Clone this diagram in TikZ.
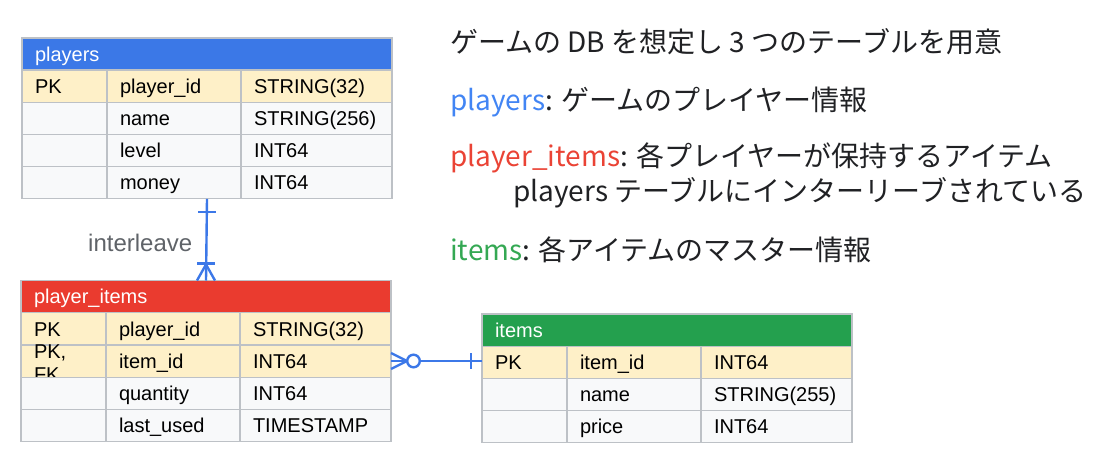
\documentclass[tikz,border=0pt]{standalone}
\usepackage{fontspec}
\setmainfont{Liberation Sans}
\newfontfamily\jp{Noto Sans CJK JP}
\usetikzlibrary{fit,calc}
\definecolor{pblue}{HTML}{3B78E7}
\definecolor{pired}{HTML}{EA3B2F}
\definecolor{itgreen}{HTML}{24A04E}
\definecolor{keyyellow}{HTML}{FEF0C8}
\definecolor{rowgray}{HTML}{F8F9FA}
\definecolor{bordergray}{HTML}{BDC1C6}
\definecolor{connblue}{HTML}{3C78E8}
\definecolor{txtgray}{HTML}{5F6368}
\definecolor{txtdark}{HTML}{202124}
\definecolor{tblue}{HTML}{4285F4}
\definecolor{tred}{HTML}{EA4335}
\definecolor{tgreen}{HTML}{34A853}
\newcommand\tabrow[7]{%
  \node[c1,#4] (#1a) at (#2,#3) {#5};
  \node[c2,#4] (#1b) at (#1a.north east) {#6};
  \node[c3,#4] (#1c) at (#1b.north east) {#7};
}
\begin{document}
\begin{tikzpicture}[x=1pt,y=-1pt,
  cell/.style={draw=bordergray, line width=1.2pt, anchor=north west,
    outer sep=0pt,
    minimum height=32.2pt, inner xsep=13pt, inner ysep=0pt,
    text height=14.4pt, text depth=0pt, align=left, text=black,
    font=\fontsize{20}{23}\selectfont},
  c1/.style={cell, text width=59pt, minimum width=85pt},
  c2/.style={cell, text width=108pt, minimum width=134pt},
  c3/.style={cell, text width=125pt, minimum width=151pt},
  key/.style={fill=keyyellow},
  plain/.style={fill=rowgray},
  ttl/.style={cell, text=white, text width=344pt, minimum width=370pt},
  conn/.style={draw=connblue, line width=2.4pt},
  rtext/.style={anchor=base west, inner sep=0pt, text=txtdark,
    font=\jp\fontsize{28}{34}\selectfont},
]
\useasboundingbox (0,0) rectangle (1113,463);

% players
\node[ttl, fill=pblue] (pt) at (22,38) {players};
\tabrow{p1}{22}{70}{key}{PK}{player\_id}{STRING(32)}
\tabrow{p2}{22}{102.2}{plain}{}{name}{STRING(256)}
\tabrow{p3}{22}{134.4}{plain}{}{level}{INT64}
\tabrow{p4}{22}{166.6}{plain}{}{money}{INT64}
\node[fit=(pt)(p4c), inner sep=0pt, outer sep=0pt] (players) {};

% player_items
\node[ttl, fill=pired] (pit) at (21,280.5) {player\_items};
\tabrow{pi1}{21}{312.7}{key}{PK}{player\_id}{STRING(32)}
\tabrow{pi2}{21}{344.9}{key}{\raisebox{10pt}{\smash{\parbox[t]{59pt}{\baselineskip=23pt PK,\\FK}}}}{item\_id}{INT64}
\tabrow{pi3}{21}{377.1}{plain}{}{quantity}{INT64}
\tabrow{pi4}{21}{409.3}{plain}{}{last\_used}{TIMESTAMP}
\node[fit=(pit)(pi4c), inner sep=0pt, outer sep=0pt] (pitems) {};

% items
\node[ttl, fill=itgreen] (itt) at (482,314) {items};
\tabrow{it1}{482}{346.2}{key}{PK}{item\_id}{INT64}
\tabrow{it2}{482}{378.4}{plain}{}{name}{STRING(255)}
\tabrow{it3}{482}{410.6}{plain}{}{price}{INT64}
\node[fit=(itt)(it3c), inner sep=0pt, outer sep=0pt] (items) {};

% interleave connector
\draw[conn] (players.south) -- (pitems.north);
\draw[conn] ([xshift=-9pt,yshift=-13pt]players.south) -- ([xshift=9pt,yshift=-13pt]players.south);
\draw[conn] ([xshift=-9pt,yshift=17pt]pitems.north) -- ([xshift=9pt,yshift=17pt]pitems.north);
\draw[conn] ([xshift=-9pt]pitems.north) -- ([yshift=16pt]pitems.north) -- ([xshift=9pt]pitems.north);
\node[text=txtgray, font=\fontsize{24}{28}\selectfont, anchor=east, inner sep=0pt] (il) at ([xshift=-14pt,yshift=-3pt]$(players.south)!0.5!(pitems.north)$) {interleave};

% items connector
\coordinate (ie) at (pi2c.east -| items.west);
\draw[conn] (pi2c.east) -- (ie);
\draw[conn] ([yshift=8pt]pi2c.east) -- ([xshift=16pt]pi2c.east) -- ([yshift=-8pt]pi2c.east);
\draw[conn, fill=white] ([xshift=22.5pt]pi2c.east) circle (6.3pt);
\draw[conn] ([xshift=-11pt,yshift=8pt]ie) -- ([xshift=-11pt,yshift=-8pt]ie);

% right text
\node[rtext] (l1) at (450,52) {ゲームの DB を想定し 3 つのテーブルを用意};
\node[rtext] (l2) at (450,110) {\textcolor{tblue}{players}: ゲームのプレイヤー情報};
\node[rtext] (l3) at (450,166) {\textcolor{tred}{player\_items}: 各プレイヤーが保持するアイテム};
\node[rtext] (l4) at (513,201) {players テーブルにインターリーブされている};
\node[rtext] (l5) at (450,260) {\textcolor{tgreen}{items}: 各アイテムのマスター情報};
\end{tikzpicture}
\end{document}
